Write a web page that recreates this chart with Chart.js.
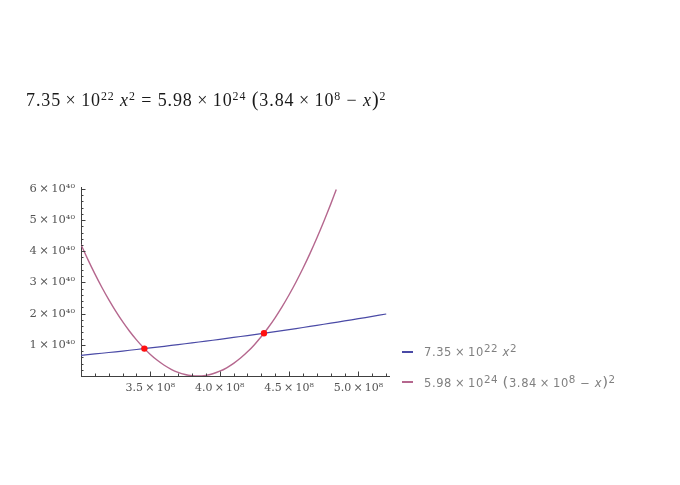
<!DOCTYPE html>
<html>
<head>
<meta charset="utf-8">
<script src="https://cdn.jsdelivr.net/npm/chart.js@4.4.1/dist/chart.umd.min.js"></script>
<style>
html, body { margin: 0; padding: 0; background: #ffffff; }
#wrap { position: relative; width: 680px; height: 485px; overflow: hidden; background: #fff; }
#chartBox { position: absolute; left: 0; top: 0; width: 680px; height: 485px; }
#title { position: absolute; left: 26px; top: 90px; font-family: "Liberation Serif", "DejaVu Serif", serif;
  font-size: 18px; line-height: 18px; color: #1a1a1a; white-space: nowrap; letter-spacing: 0.9px; }
#title sup { font-size: 0.66em; vertical-align: 0; position: relative; top: -0.5em; line-height: 0; }
#title .big { font-size: 1.12em; }
.leg { position: absolute; left: 424px; font-family: "DejaVu Sans", sans-serif; font-size: 11.5px;
  line-height: 11px; color: #808080; white-space: nowrap; letter-spacing: 0.6px; }
.leg sup { font-size: 0.9em; vertical-align: 0; position: relative; top: -0.42em; line-height: 0; }
.leg .big { font-size: 1.3em; }
.sw { position: absolute; left: 402px; width: 11px; height: 2px; }
</style>
</head>
<body>
<div id="wrap">
  <div id="chartBox"><canvas id="c"></canvas></div>
  <div id="title">7.35&thinsp;×&thinsp;10<sup>22</sup>&nbsp;<i>x</i><sup>2</sup> = 5.98&thinsp;×&thinsp;10<sup>24</sup>&nbsp;<span class="big">(</span>3.84&thinsp;×&thinsp;10<sup>8</sup> − <i>x</i><span class="big">)</span><sup>2</sup></div>
  <div class="sw" id="sw1"></div>
  <div class="leg" id="leg1" style="top:347px">7.35&thinsp;×&thinsp;10<sup>22</sup>&nbsp;<i>x</i><sup>2</sup></div>
  <div class="sw" id="sw2"></div>
  <div class="leg" id="leg2" style="top:377px">5.98&thinsp;×&thinsp;10<sup>24</sup>&nbsp;<span class="big">(</span>3.84&thinsp;×&thinsp;10<sup>8</sup> − <i>x</i><span class="big">)</span><sup>2</sup></div>
</div>
<script>
// ---- data ----
const blueX = [3.0e8, 3.1e8, 3.2e8, 3.3e8, 3.4e8, 3.5e8, 3.6e8, 3.7e8, 3.8e8, 3.9e8, 4.0e8,
  4.1e8, 4.2e8, 4.3e8, 4.4e8, 4.5e8, 4.6e8, 4.7e8, 4.8e8, 4.9e8, 5.0e8, 5.1e8, 5.2e8];
const blueY = [0.6615e40, 0.7063e40, 0.7526e40, 0.8004e40, 0.8497e40, 0.9004e40, 0.9526e40,
  1.0062e40, 1.0613e40, 1.1179e40, 1.1760e40, 1.2355e40, 1.2965e40, 1.3590e40, 1.4230e40,
  1.4884e40, 1.5553e40, 1.6236e40, 1.6934e40, 1.7647e40, 1.8375e40, 1.9117e40, 1.9874e40];

const pinkX = [3.00e8, 3.05e8, 3.10e8, 3.15e8, 3.20e8, 3.25e8, 3.30e8, 3.35e8, 3.40e8, 3.45e8,
  3.50e8, 3.55e8, 3.60e8, 3.65e8, 3.70e8, 3.75e8, 3.80e8, 3.84e8, 3.90e8, 3.95e8, 4.00e8,
  4.05e8, 4.10e8, 4.15e8, 4.20e8, 4.25e8, 4.30e8, 4.35e8, 4.40e8, 4.45e8, 4.50e8, 4.55e8,
  4.60e8, 4.65e8, 4.70e8, 4.75e8, 4.80e8, 4.84e8];
const pinkY = [4.219e40, 3.732e40, 3.275e40, 2.847e40, 2.449e40, 2.082e40, 1.744e40, 1.436e40,
  1.158e40, 0.910e40, 0.691e40, 0.503e40, 0.344e40, 0.216e40, 0.117e40, 0.048e40, 0.0096e40,
  0, 0.0215e40, 0.0724e40, 0.153e40, 0.264e40, 0.404e40, 0.575e40, 0.775e40, 1.005e40,
  1.265e40, 1.555e40, 1.875e40, 2.225e40, 2.605e40, 3.015e40, 3.454e40, 3.923e40, 4.423e40,
  4.952e40, 5.511e40, 5.980e40];

const crossX = [3.4568e8, 4.3188e8];
const crossY = [0.8783e40, 1.3709e40];

const seriesNames = ['7.35×10²² x²', '5.98×10²⁴ (3.84×10⁸ − x)²', 'solutions'];

const xTickValues = [3.5e8, 4.0e8, 4.5e8, 5.0e8];
const xTickLabels = ['3.5\u2009×\u200910⁸', '4.0\u2009×\u200910⁸', '4.5\u2009×\u200910⁸', '5.0\u2009×\u200910⁸'];
const yTickValues = [1e40, 2e40, 3e40, 4e40, 5e40, 6e40];
const yTickLabels = ['1\u2009×\u200910⁴⁰', '2\u2009×\u200910⁴⁰', '3\u2009×\u200910⁴⁰', '4\u2009×\u200910⁴⁰', '5\u2009×\u200910⁴⁰', '6\u2009×\u200910⁴⁰'];
const xMinorStep = 0.1e8;
const yMinorStep = 0.2e40;

// ---- styles ----
const blueColor = '#4a4aa6';
const pinkColor = '#b5678e';
const axisColor = '#404040';
const labelColor = '#555555';

document.getElementById('sw1').style.cssText += ';top:351px;background:' + blueColor;
document.getElementById('sw2').style.cssText += ';top:381px;background:' + pinkColor;

const xMin = 3.0e8, xMax = 5.22e8, yMin = 0, yMax = 6.06e40;

const toPts = (xs, ys) => xs.map((x, i) => ({ x: x, y: ys[i] }));

const insideTicks = {
  id: 'insideTicks',
  afterDraw(chart) {
    const ctx = chart.ctx;
    const xs = chart.scales.x, ys = chart.scales.y;
    const a = chart.chartArea;
    ctx.save();
    ctx.strokeStyle = axisColor;
    ctx.lineWidth = 1;
    ctx.beginPath();
    const nx = Math.round((xMax - xMin) / xMinorStep);
    for (let k = 1; k <= nx; k++) {
      const v = xMin + k * xMinorStep;
      const major = xTickValues.some(t => Math.abs(t - v) < xMinorStep / 10);
      const px = Math.round(xs.getPixelForValue(v)) + 0.5;
      const len = major ? 4.5 : 2.5;
      ctx.moveTo(px, a.bottom);
      ctx.lineTo(px, a.bottom - len);
    }
    const ny = Math.floor((yMax - yMin) / yMinorStep + 1e-6);
    for (let k = 1; k <= ny; k++) {
      const v = yMin + k * yMinorStep;
      const major = yTickValues.some(t => Math.abs(t - v) < yMinorStep / 10);
      const py = Math.round(ys.getPixelForValue(v)) + 0.5;
      const len = major ? 4.5 : 2.5;
      ctx.moveTo(a.left, py);
      ctx.lineTo(a.left + len, py);
    }
    ctx.stroke();
    ctx.restore();
  }
};

new Chart(document.getElementById('c'), {
  type: 'scatter',
  data: {
    datasets: [
      { label: seriesNames[0], data: toPts(blueX, blueY), showLine: true, borderColor: blueColor,
        borderWidth: 1.2, pointRadius: 0, tension: 0.3, order: 2 },
      { label: seriesNames[1], data: toPts(pinkX, pinkY), showLine: true, borderColor: pinkColor,
        borderWidth: 1.4, pointRadius: 0, tension: 0.3, order: 2 },
      { label: seriesNames[2], data: toPts(crossX, crossY), showLine: false, pointRadius: 3.2,
        backgroundColor: '#ff1010', borderWidth: 0, order: 1 }
    ]
  },
  options: {
    responsive: true,
    maintainAspectRatio: false,
    animation: false,
    devicePixelRatio: 1,
    layout: { padding: { left: 0, top: 187, right: 291, bottom: 69 } },
    plugins: { legend: { display: false }, tooltip: { enabled: false } },
    scales: {
      x: {
        type: 'linear', min: xMin, max: xMax,
        afterBuildTicks: s => { s.ticks = xTickValues.map(v => ({ value: v })); },
        afterFit: s => { s.height = 40; },
        ticks: {
          callback: (v, i) => xTickLabels[i],
          autoSkip: false, maxRotation: 0, minRotation: 0, padding: 6,
          color: labelColor, font: { family: '"DejaVu Serif", serif', size: 11 }
        },
        grid: { drawOnChartArea: false, drawTicks: false },
        border: { display: true, color: axisColor, width: 1 }
      },
      y: {
        type: 'linear', min: yMin, max: yMax,
        afterBuildTicks: s => { s.ticks = yTickValues.map(v => ({ value: v })); },
        afterFit: s => { s.width = 81; },
        ticks: {
          callback: (v, i) => yTickLabels[i],
          autoSkip: false, padding: 6,
          color: labelColor, font: { family: '"DejaVu Serif", serif', size: 11.5 }
        },
        grid: { drawOnChartArea: false, drawTicks: false },
        border: { display: true, color: axisColor, width: 1 }
      }
    }
  },
  plugins: [insideTicks]
});
</script>
</body>
</html>
